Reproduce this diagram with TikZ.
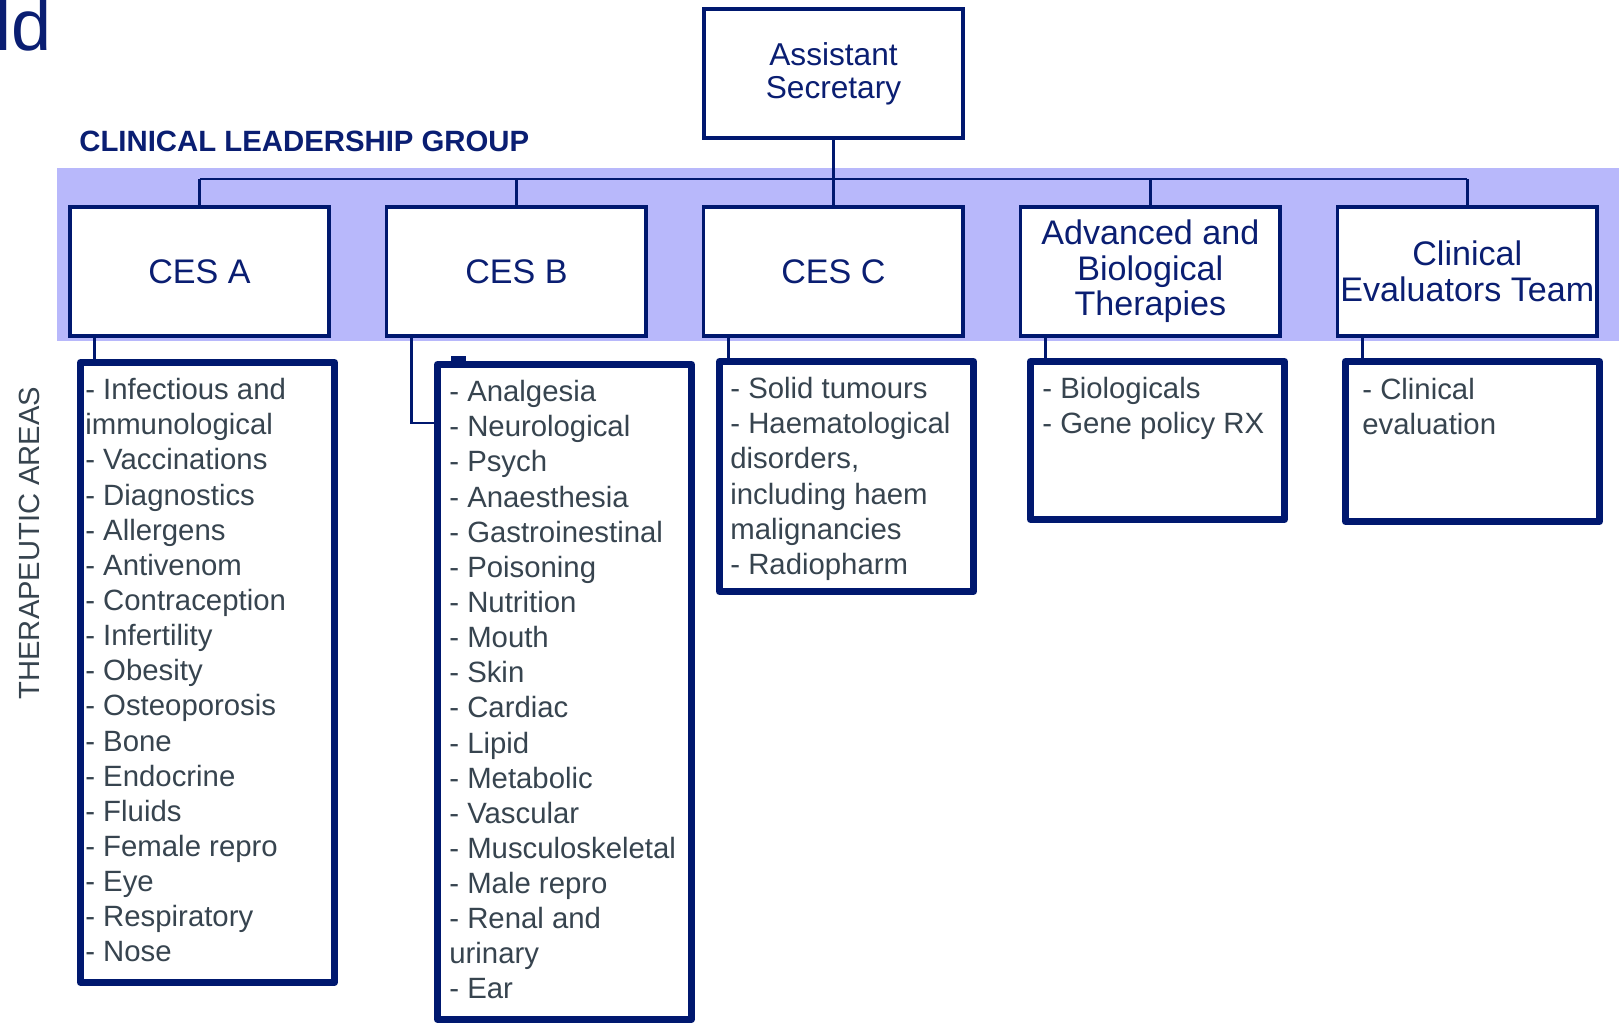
\documentclass[tikz,border=0pt]{standalone}
\usepackage{fontspec}
\setmainfont{Liberation Sans}
\usetikzlibrary{positioning}
\definecolor{clNavy}{HTML}{00186F}
\definecolor{clInk}{HTML}{0A1E72}
\definecolor{clSlate}{HTML}{37444F}
\definecolor{clBand}{HTML}{B8B8FB}
\tikzset{
  unitbox/.style = {draw=clNavy, line width=0.07cm, fill=white, minimum width=5.19cm,
                    minimum height=2.59cm, inner sep=0pt, align=center, text=clInk,
                    font=\fontsize{19.4}{20.3}\selectfont},
  areabox/.style = {draw=clNavy, line width=0.14cm, line join=round, fill=white,
                    anchor=north west, minimum width=5.08cm, inner sep=0pt},
  arealbl/.style = {anchor=north west, inner sep=0pt, align=left, text=clSlate,
                    font=\fontsize{16.7}{20}\selectfont},
  link/.style    = {draw=clNavy, line width=0.055cm},
  hdr/.style     = {inner sep=0pt, text=clInk},
}

\begin{document}
\begin{tikzpicture}[x=0.02cm,y=-0.02cm]
  \useasboundingbox (0,0) rectangle (1619,1023);
  % band behind the five units
  \fill[clBand] (57,168) rectangle (1619,341);
  \node[hdr, anchor=base west, font=\fontsize{41}{41}\selectfont] (ttl) at (-5,51) {ld};
  \node[hdr, anchor=west, font=\bfseries\fontsize{16.7}{20}\selectfont] (clg) at (79,141)
    {CLINICAL LEADERSHIP GROUP};
  \node[inner sep=0pt, rotate=90, text=clSlate, font=\fontsize{16.6}{20}\selectfont] (tas)
    at (29,543) {THERAPEUTIC AREAS};

  % units
  \node[unitbox, font=\fontsize{18}{18.8}\selectfont] (asec) at (833.5,73.5) {Assistant\\Secretary};
  \node[unitbox] (cesa) at (199.5,271.5) {CES A};
  \node[unitbox, right=1.08cm of cesa] (cesb) {CES B};
  \node[unitbox, right=1.08cm of cesb] (cesc) {CES C};
  \node[unitbox, right=1.08cm of cesc] (abt) {Advanced and\\Biological\\Therapies};
  \node[unitbox, right=1.08cm of abt] (cet) {Clinical\\Evaluators Team};

  % therapeutic areas
  \node[areabox, minimum height=12.4cm] (lista) at (77,359) {};
  \node[areabox, minimum height=13.1cm] (listb) at (434,361) {};
  \node[areabox, minimum height=4.6cm] (listc) at (716,358) {};
  \node[areabox, minimum height=3.16cm] (listd) at (1027,358) {};
  \node[areabox, minimum height=3.2cm] (liste) at (1342,358) {};
  \fill[clNavy] (451,356) rectangle (466,362);

  \node[arealbl] (txta) at (85,378) {- Infectious and\\immunological\\- Vaccinations\\- Diagnostics\\
    - Allergens\\- Antivenom\\- Contraception\\- Infertility\\- Obesity\\- Osteoporosis\\- Bone\\
    - Endocrine\\- Fluids\\- Female repro\\- Eye\\- Respiratory\\- Nose};
  \node[arealbl] (txtb) at (449,380) {- Analgesia\\- Neurological\\- Psych\\- Anaesthesia\\
    - Gastroinestinal\\- Poisoning\\- Nutrition\\- Mouth\\- Skin\\- Cardiac\\- Lipid\\
    - Metabolic\\- Vascular\\- Musculoskeletal\\- Male repro\\- Renal and\\urinary\\- Ear};
  \node[arealbl] (txtc) at (730,377) {- Solid tumours\\- Haematological\\disorders,\\
    including haem\\malignancies\\- Radiopharm};
  \node[arealbl] (txtd) at (1042,377) {- Biologicals\\- Gene policy RX};
  \node[arealbl] (txte) at (1362,378) {- Clinical\\evaluation};

  % connectors
  \coordinate (bus) at (833.5,179);
  \draw[link] (asec) -- (cesc);
  \draw[link] (cesa.north |- bus) -- (cet.north |- bus);
  \foreach \u in {cesa,cesb,abt,cet}
    \draw[link] (\u.north) -- (\u.north |- bus);
  \foreach \src/\dst in {cesa/lista,cesc/listc,abt/listd,cet/liste} {
    \coordinate (d\src) at ([xshift=0.53cm]\src.south west);
    \draw[link] (d\src) -- (d\src |- \dst.north);
  }
  \coordinate (dcesb) at ([xshift=0.53cm]cesb.south west);
  \draw[link] (dcesb) |- ([yshift=-1.24cm]listb.north west);
\end{tikzpicture}
\end{document}
